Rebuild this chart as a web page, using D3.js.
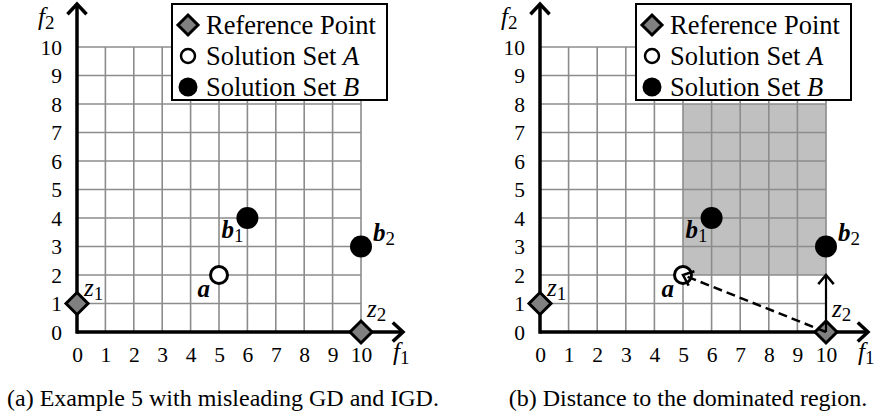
<!DOCTYPE html>
<html><head><meta charset="utf-8">
<script src="https://cdn.jsdelivr.net/npm/d3@7"></script>
<style>body{margin:0;background:#fff}svg{display:block}
svg text{font-family:"Liberation Serif","Times New Roman","DejaVu Serif",serif;}
</style>
</head><body>
<svg id="c" width="877" height="419"></svg>
<script>
// ---- data ----
const tickValues = [0,1,2,3,4,5,6,7,8,9,10];
const refF1 = [0, 10];
const refF2 = [1, 0];
const refSubs = ["1", "2"];
const setAF1 = [5];
const setAF2 = [2];
const setBF1 = [6, 10];
const setBF2 = [4, 3];
const setBSubs = ["1", "2"];
const domRegionF1 = [5, 10];
const domRegionF2 = [2, 8];
const legendLabels = ["Reference Point", "Solution Set ", "Solution Set "];
const legendItalic = ["", "A", "B"];
const captions = ["(a) Example 5 with misleading GD and IGD.", "(b) Distance to the dominated region."];
// distance arrows in panel (b): from, to
const arrowFromF1 = [10, 10], arrowFromF2 = [0, 0];
const arrowToF1 = [5, 10], arrowToF2 = [2, 2];
const arrowDashed = [true, false];

const svg = d3.select("#c");

const panels = [
  {x0: 77, x1: 361, legendX: 172, capX: 223, shaded: false, arrows: false},
  {x0: 540, x1: 826, legendX: 636, capX: 688, shaded: true, arrows: true}
];

function chevron(g, tipX, tipY, angle, len, spread, sw) {
  const a1 = angle + Math.PI - spread, a2 = angle + Math.PI + spread;
  g.append("path")
    .attr("d", `M${tipX + len*Math.cos(a1)},${tipY + len*Math.sin(a1)}L${tipX},${tipY}L${tipX + len*Math.cos(a2)},${tipY + len*Math.sin(a2)}`)
    .attr("fill", "none").attr("stroke", "#000").attr("stroke-width", sw)
    .attr("stroke-linejoin", "miter").attr("stroke-linecap", "butt");
}

function diamond(g, cx, cy, r, sw) {
  g.append("path")
    .attr("d", `M${cx},${cy-r}L${cx+r},${cy}L${cx},${cy+r}L${cx-r},${cy}Z`)
    .attr("fill", "#808080").attr("stroke", "#000").attr("stroke-width", sw)
    .attr("stroke-linejoin", "miter");
}

function subLabel(g, x, y, main, sub, bold, anchor) {
  const t = g.append("text").attr("x", x).attr("y", y)
    .attr("font-size", 25).attr("text-anchor", anchor || "start");
  t.append("tspan").attr("font-style", "italic").attr("font-weight", bold ? "bold" : "normal").text(main);
  if (sub) t.append("tspan").attr("font-size", 19).attr("dy", 4).text(sub);
}

panels.forEach((p, pi) => {
  const g = svg.append("g");
  const x = d3.scaleLinear().domain([0, 10]).range([p.x0, p.x1]);
  const y = d3.scaleLinear().domain([0, 10]).range([332, 47]);

  if (p.shaded) {
    g.append("rect")
      .attr("x", x(domRegionF1[0])).attr("y", y(domRegionF2[1]))
      .attr("width", x(domRegionF1[1]) - x(domRegionF1[0]))
      .attr("height", y(domRegionF2[0]) - y(domRegionF2[1]))
      .attr("fill", "#c0c0c0");
  }

  const grid = g.append("g").attr("stroke", "#8c8c8c").attr("stroke-width", 1.6);
  tickValues.filter(v => v > 0).forEach(v => {
    grid.append("line").attr("x1", x(v)).attr("x2", x(v)).attr("y1", y(0)).attr("y2", y(10));
    grid.append("line").attr("x1", x(0)).attr("x2", x(10)).attr("y1", y(v)).attr("y2", y(v));
  });

  const xAxis = d3.axisBottom(x).tickValues(tickValues).tickSize(0).tickPadding(0).tickFormat(d3.format("d"));
  const xa = g.append("g").attr("transform", `translate(0,${y(0)})`).call(xAxis);
  xa.attr("font-family", null);
  xa.select(".domain").remove();
  xa.selectAll("text").attr("font-size", 21.5).attr("fill", "#000")
    .attr("dy", null).attr("y", 29.5);
  const yAxis = d3.axisLeft(y).tickValues(tickValues).tickSize(0).tickPadding(0).tickFormat(d3.format("d"));
  const ya = g.append("g").attr("transform", `translate(${x(0) - 15},0)`).call(yAxis);
  ya.attr("font-family", null);
  ya.select(".domain").remove();
  ya.selectAll("text").attr("font-size", 21.5).attr("fill", "#000")
    .attr("dy", "0.33em");

  const ax = g.append("g");
  const xTip = x(10) + 42;
  ax.append("line").attr("x1", x(0)).attr("x2", xTip - 2).attr("y1", y(0)).attr("y2", y(0))
    .attr("stroke", "#000").attr("stroke-width", 3.5);
  chevron(ax, xTip, y(0), 0, 14, 0.75, 3.5);
  const yTip = 4;
  ax.append("line").attr("x1", x(0)).attr("x2", x(0)).attr("y1", y(0) + 1.75).attr("y2", yTip + 2)
    .attr("stroke", "#000").attr("stroke-width", 3.5);
  chevron(ax, x(0), yTip, -Math.PI / 2, 14, 0.75, 3.5);

  subLabel(g, x(0) - 39, 25, "f", "2", false);
  subLabel(g, x(10) + 32, 360, "f", "1", false);

  refF1.forEach((v, i) => diamond(g, x(v), y(refF2[i]), 11, 3));
  setAF1.forEach((v, i) => {
    g.append("circle").attr("cx", x(v)).attr("cy", y(setAF2[i])).attr("r", 8.5)
      .attr("fill", "#fff").attr("stroke", "#000").attr("stroke-width", 3);
  });
  setBF1.forEach((v, i) => {
    g.append("circle").attr("cx", x(v)).attr("cy", y(setBF2[i])).attr("r", 11).attr("fill", "#000");
  });

  if (p.arrows) {
    arrowFromF1.forEach((v, i) => {
      const sx = x(v), sy = y(arrowFromF2[i]);
      const tx = x(arrowToF1[i]), ty = y(arrowToF2[i]);
      const ang = Math.atan2(ty - sy, tx - sx);
      g.append("line").attr("x1", sx).attr("y1", sy).attr("x2", tx - Math.cos(ang)*2).attr("y2", ty - Math.sin(ang)*2)
        .attr("stroke", "#000").attr("stroke-width", arrowDashed[i] ? 2.5 : 2.2)
        .attr("stroke-dasharray", arrowDashed[i] ? "9,5" : null);
      chevron(g, tx, ty, ang, 12, 0.7, 2.5);
    });
  }

  subLabel(g, x(refF1[0]) + 7, y(refF2[0]) - 8, "z", refSubs[0], false);
  subLabel(g, x(refF1[1]) + 6, y(refF2[1]) - 15, "z", refSubs[1], false);
  setAF1.forEach((v, i) => {
    g.append("text").attr("x", x(v) - 9).attr("y", y(setAF2[i]) + 22)
      .attr("font-size", 25).attr("text-anchor", "end")
      .attr("font-style", "italic").attr("font-weight", "bold").text("a");
  });
  subLabel(g, x(setBF1[0]) - 26, y(setBF2[0]) + 20, "b", setBSubs[0], true);
  subLabel(g, x(setBF1[1]) + 12, y(setBF2[1]) - 6, "b", setBSubs[1], true);

  const lg = g.append("g").attr("transform", `translate(${p.legendX},4)`);
  lg.append("rect").attr("x", 0).attr("y", 0).attr("width", 215).attr("height", 96)
    .attr("fill", "#fff").attr("stroke", "#000").attr("stroke-width", 2);
  const rowY = [21, 52, 83];
  diamond(lg, 16, rowY[0], 10, 3);
  lg.append("circle").attr("cx", 16).attr("cy", rowY[1]).attr("r", 7)
    .attr("fill", "#fff").attr("stroke", "#000").attr("stroke-width", 2.5);
  lg.append("circle").attr("cx", 16).attr("cy", rowY[2]).attr("r", 9.5).attr("fill", "#000");
  legendLabels.forEach((lab, i) => {
    const t = lg.append("text").attr("x", 34).attr("y", rowY[i] + 8.5)
      .attr("font-size", 26.5);
    t.append("tspan").text(lab);
    if (legendItalic[i]) t.append("tspan").attr("font-style", "italic").text(legendItalic[i]);
  });

  g.append("text").attr("x", p.capX).attr("y", 406).attr("text-anchor", "middle")
    .attr("font-size", 24).text(captions[pi]);
});
</script>
</body></html>
